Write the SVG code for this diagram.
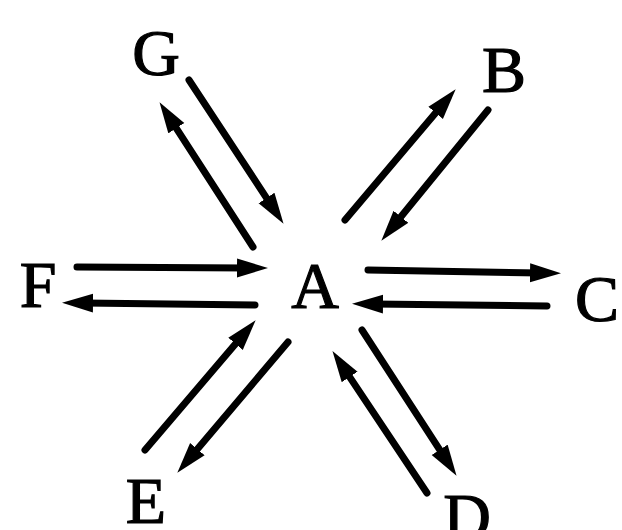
<svg xmlns="http://www.w3.org/2000/svg" width="622" height="530" viewBox="0 0 622 530">
<style>
.lbl{font-family:"Liberation Serif","Times New Roman",serif;font-size:66px;fill:#000;stroke:#000;stroke-width:1.2;text-anchor:middle}
.arr{stroke:#000;stroke-width:7;fill:none;stroke-linecap:round;marker-end:url(#ah)}
</style>
<defs>
<marker id="ah" markerUnits="userSpaceOnUse" markerWidth="32" markerHeight="22" refX="10" refY="10" orient="auto" viewBox="0 0 32 22">
<path d="M0,0.5 L31,10 L0,19.5 Z" fill="#000"/>
</marker>
</defs>
<rect width="622" height="530" fill="#fff"/>
<g id="connectors">
<line class="arr" x1="189" y1="80" x2="272" y2="206.3"/>
<line class="arr" x1="253" y1="247" x2="170.9" y2="119.8"/>
<line class="arr" x1="345" y1="220" x2="442.1" y2="105.3"/>
<line class="arr" x1="488" y1="110" x2="394.6" y2="224.5"/>
<line class="arr" x1="77" y1="267" x2="247" y2="268"/>
<line class="arr" x1="255" y1="305" x2="83" y2="303"/>
<line class="arr" x1="368" y1="270" x2="540" y2="273"/>
<line class="arr" x1="547" y1="306" x2="373" y2="304"/>
<line class="arr" x1="145" y1="450" x2="242" y2="336.2"/>
<line class="arr" x1="288" y1="342" x2="190.9" y2="456.7"/>
<line class="arr" x1="362" y1="330" x2="445.1" y2="458.2"/>
<line class="arr" x1="427" y1="493" x2="344.1" y2="368.6"/>
</g>
<g id="node-A"><text class="lbl" x="315" y="308">A</text></g>
<g id="node-B"><text class="lbl" x="504" y="92">B</text></g>
<g id="node-C"><text class="lbl" x="597" y="321">C</text></g>
<g id="node-D"><text class="lbl" x="467" y="539">D</text></g>
<g id="node-E"><text class="lbl" x="146" y="523">E</text></g>
<g id="node-F"><text class="lbl" x="38" y="307">F</text></g>
<g id="node-G"><text class="lbl" x="156" y="75">G</text></g>
</svg>
